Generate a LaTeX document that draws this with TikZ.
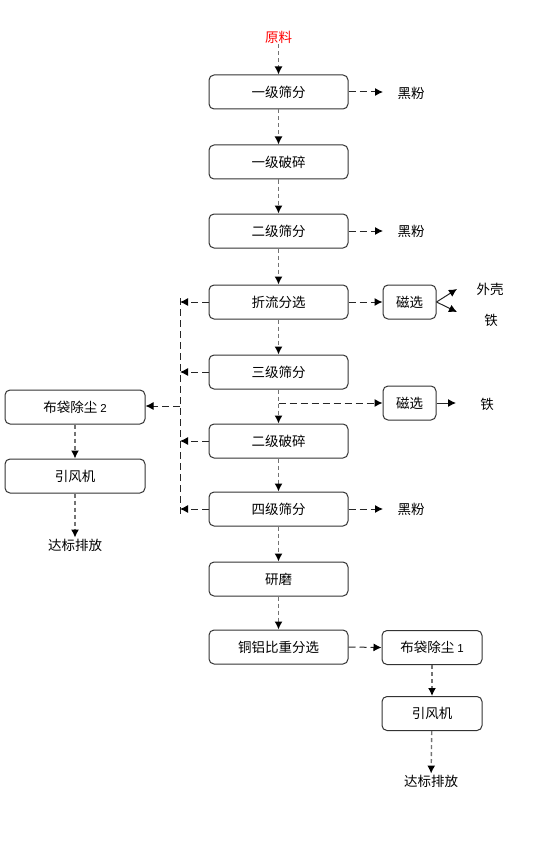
\documentclass[tikz,border=0pt]{standalone}
\usepackage{fontspec}
\setmainfont{Liberation Sans}
\newfontfamily\cjk{Noto Sans CJK SC}
\usetikzlibrary{arrows.meta}
\begin{document}
\begin{tikzpicture}[x=1pt,y=-1pt,
  font=\cjk\fontsize{13.5}{15}\selectfont,
  box/.style={draw=black!80,line width=1pt,rounded corners=5pt,minimum height=34pt,inner sep=0pt},
  mainbox/.style={box,minimum width=139pt},
  tip/.style={-{Latex[length=8pt,width=8pt,black]}},
  vflow/.style={draw=black!55,line width=1.4pt,dash pattern=on 4pt off 3pt,tip},
  hflow/.style={draw=black!85,line width=1pt,dash pattern=on 7pt off 4pt,tip},
  sflow/.style={draw=black!85,line width=1pt,tip},
  lbl/.style={inner sep=1pt}]
\useasboundingbox (0,0) rectangle (554,853);
% main column
\node[lbl,text=red] (raw) at (278.5,37) {原料};
\node[mainbox] (s1) at (278.5,92) {一级筛分};
\node[mainbox] (c1) at (278.5,162) {一级破碎};
\node[mainbox] (s2) at (278.5,231) {二级筛分};
\node[mainbox] (zl) at (278.5,302) {折流分选};
\node[mainbox] (s3) at (278.5,372) {三级筛分};
\node[mainbox] (c2) at (278.5,441) {二级破碎};
\node[mainbox] (s4) at (278.5,509) {四级筛分};
\node[mainbox] (ym) at (278.5,579) {研磨};
\node[mainbox] (tl) at (278.5,647) {铜铝比重分选};
% right side
\node[lbl] (h1) at (411,93) {黑粉};
\node[lbl] (h2) at (411,231) {黑粉};
\node[lbl] (h4) at (411,509) {黑粉};
\node[box,minimum width=53pt] (m1) at (409.5,302) {磁选};
\node[box,minimum width=53pt] (m2) at (409.5,403) {磁选};
\node[lbl] (wk) at (490,289) {外壳};
\node[lbl] (t1) at (491,320) {铁};
\node[lbl] (t2) at (487,404) {铁};
\coordinate (wka) at (457,289);
\coordinate (t1a) at (457,312);
\coordinate (t2a) at (456,403);
\node[box,minimum width=100pt] (bd1) at (432,647.5) {布袋除尘 {\fontspec{Liberation Sans}\fontsize{11.5}{13}\selectfont 1}};
\node[box,minimum width=100pt] (yf1) at (432,713.5) {引风机};
\node[lbl] (db1) at (431,781) {达标排放};
% left side
\node[box,minimum width=140pt] (bd2) at (75,407) {布袋除尘 {\fontspec{Liberation Sans}\fontsize{11.5}{13}\selectfont 2}};
\node[box,minimum width=140pt] (yf2) at (75,476) {引风机};
\node[lbl] (db2) at (75,545) {达标排放};
\coordinate (Ltop) at (180,298);
\coordinate (Lbot) at (180,514);
% vertical flows
\draw[vflow] (raw) -- (s1);
\draw[vflow] (s1) -- (c1);
\draw[vflow] (c1) -- (s2);
\draw[vflow] (s2) -- (zl);
\draw[vflow] (zl) -- (s3);
\draw[vflow] (s3) -- (c2);
\draw[vflow] (c2) -- (s4);
\draw[vflow] (s4) -- (ym);
\draw[vflow] (ym) -- (tl);
\draw[vflow] (bd1) -- (yf1);
\draw[vflow] (yf1) -- (db1);
\draw[vflow] (bd2) -- (yf2);
\draw[vflow] (yf2) -- (db2);
% horizontal flows
\draw[hflow] (s1.east) -- (383,92);
\draw[hflow] (s2.east) -- (383,231);
\draw[hflow] (s4.east) -- (383,509);
\draw[hflow] (zl.east) -- (m1.west);
\draw[hflow] (278.5,403) -- (m2.west);
\draw[hflow] (tl.east) -- (bd1.west);
\draw[sflow] (m1.east) -- (wka);
\draw[sflow] (m1.east) -- (t1a);
\draw[sflow] (m2.east) -- (t2a);
% left collection line
\draw[draw=black!85,line width=1pt,dash pattern=on 7pt off 4pt] (Ltop) -- (Lbot);
\draw[hflow] (zl.west) -- (zl.west -| Ltop);
\draw[hflow] (s3.west) -- (s3.west -| Ltop);
\draw[hflow] (c2.west) -- (c2.west -| Ltop);
\draw[hflow] (s4.west) -- (s4.west -| Ltop);
\draw[hflow] (180,406) -- (bd2.east |- 0,406);
\end{tikzpicture}
\end{document}
